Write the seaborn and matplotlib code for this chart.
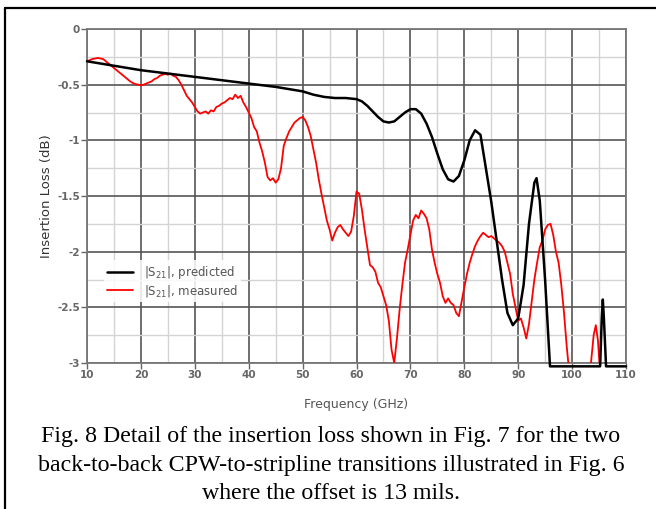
import numpy as np
import pandas as pd
import matplotlib
matplotlib.use("Agg")
import matplotlib.pyplot as plt
from matplotlib.lines import Line2D
from matplotlib.ticker import MultipleLocator
import seaborn as sns

# predicted |S21| (simulation), GHz / dB
freq_pred = [10, 15, 20, 25, 30, 35, 40, 45, 50, 52, 54, 56, 58, 60, 61, 62, 63, 64, 65,
             66, 67, 68, 69, 70, 71, 72, 73, 74, 75, 76, 77, 78, 79, 80, 81, 82, 83,
             84, 85, 86, 87, 88, 89, 90, 91, 92, 93, 93.4, 94, 95, 95.9, 100, 105.2,
             105.5, 105.7, 105.9, 106.3, 110]
loss_pred = [-0.29, -0.33, -0.37, -0.40, -0.43, -0.46, -0.49, -0.52, -0.56, -0.59, -0.61,
             -0.62, -0.62, -0.63, -0.65, -0.69, -0.74, -0.79, -0.83, -0.84, -0.83, -0.79,
             -0.75, -0.72, -0.72, -0.76, -0.85, -0.97, -1.12, -1.26, -1.35, -1.37, -1.32,
             -1.18, -1.0, -0.91, -0.95, -1.25, -1.55, -1.9, -2.25, -2.55, -2.66, -2.6,
             -2.3, -1.75, -1.38, -1.34, -1.54, -2.26, -3.03, -3.03, -3.03, -2.6, -2.43,
             -2.6, -3.03, -3.03]

# measured |S21|
freq_meas = [10.0, 10.5, 11.0, 11.5, 12.0, 12.5, 13.0, 13.5, 14.0, 14.5, 15.0, 15.5, 16.0,
             16.5, 17.0, 17.5, 18.0, 18.5, 19.0, 19.5, 20.0, 20.5, 21.0, 21.5, 22.0, 22.5,
             23.0, 23.5, 24.0, 24.5, 25.0, 25.5, 26.0, 26.5, 27.0, 27.5, 28.0, 28.5, 29.0,
             29.5, 30.0, 30.5, 31.0, 31.5, 32.0, 32.5, 33.0, 33.5, 34.0, 34.5, 35.0, 35.5,
             36.0, 36.5, 37.0, 37.5, 38.0, 38.5, 39.0, 39.5, 40.0, 40.5, 41.0, 41.5, 42.0,
             42.5, 43.0, 43.5, 44.0, 44.5, 45.0, 45.5, 46.0, 46.5, 47.0, 47.5, 48.0, 48.5,
             49.0, 49.5, 50.0, 50.5, 51.0, 51.5, 52.0, 52.5, 53.0, 53.5, 54.0, 54.5, 55.0,
             55.5, 56.0, 56.5, 57.0, 57.5, 58.0, 58.5, 59.0, 59.5, 60.0, 60.5, 61.0, 61.5,
             62.0, 62.5, 63.0, 63.5, 64.0, 64.5, 65.0, 65.5, 66.0, 66.5, 67.0, 67.5, 68.0,
             68.5, 69.0, 69.5, 70.0, 70.5, 71.0, 71.5, 72.0, 72.5, 73.0, 73.5, 74.0, 74.5,
             75.0, 75.5, 76.0, 76.5, 77.0, 77.5, 78.0, 78.5, 79.0, 79.5, 80.0, 80.5, 81.0,
             81.5, 82.0, 82.5, 83.0, 83.5, 84.0, 84.5, 85.0, 85.5, 86.0, 86.5, 87.0, 87.5,
             88.0, 88.5, 89.0, 89.5, 90.0, 90.5, 91.0, 91.5, 92.0, 92.5, 93.0, 93.5, 94.0,
             94.5, 95.0, 95.5, 96.0, 96.5, 97.0, 97.5, 98.0, 98.5, 99.0, 99.5, 100.0,
             103.0, 103.5, 104.0, 104.4, 104.8, 105.2, 105.5, 110.0]
loss_meas = [-0.29, -0.28, -0.27, -0.265, -0.26, -0.265, -0.27, -0.29, -0.31, -0.33, -0.35,
             -0.37, -0.39, -0.41, -0.43, -0.45, -0.47, -0.485, -0.495, -0.50, -0.505, -0.50,
             -0.49, -0.48, -0.47, -0.45, -0.44, -0.42, -0.41, -0.405, -0.41, -0.40, -0.42,
             -0.43, -0.46, -0.50, -0.55, -0.60, -0.63, -0.66, -0.70, -0.74, -0.76, -0.75,
             -0.74, -0.76, -0.73, -0.74, -0.70, -0.69, -0.67, -0.66, -0.64, -0.62, -0.63,
             -0.59, -0.62, -0.60, -0.66, -0.70, -0.75, -0.80, -0.88, -0.92, -1.02, -1.10,
             -1.20, -1.33, -1.36, -1.34, -1.38, -1.35, -1.25, -1.05, -0.98, -0.92, -0.88,
             -0.84, -0.82, -0.80, -0.79, -0.82, -0.88, -0.96, -1.08, -1.20, -1.35, -1.48,
             -1.60, -1.72, -1.80, -1.90, -1.83, -1.78, -1.76, -1.80, -1.83, -1.86, -1.82,
             -1.68, -1.46, -1.48, -1.62, -1.80, -1.96, -2.12, -2.14, -2.18, -2.28, -2.32,
             -2.40, -2.48, -2.62, -2.88, -3.00, -2.78, -2.52, -2.30, -2.10, -1.98, -1.85,
             -1.72, -1.67, -1.70, -1.63, -1.66, -1.70, -1.80, -1.98, -2.10, -2.20, -2.28,
             -2.40, -2.46, -2.42, -2.46, -2.48, -2.55, -2.58, -2.45, -2.32, -2.20, -2.10,
             -2.02, -1.95, -1.90, -1.86, -1.83, -1.85, -1.87, -1.86, -1.88, -1.90, -1.92,
             -1.95, -2.00, -2.10, -2.20, -2.38, -2.50, -2.62, -2.60, -2.68, -2.78, -2.65,
             -2.45, -2.25, -2.10, -1.96, -1.90, -1.80, -1.76, -1.75, -1.85, -2.00, -2.10,
             -2.30, -2.55, -2.85, -3.10, -3.30, -3.30, -3.00, -2.75, -2.66, -2.80, -3.10,
             -3.30, -3.30]

x_ticks = [10, 20, 30, 40, 50, 60, 70, 80, 90, 100, 110]
y_ticks = [0, -0.5, -1, -1.5, -2, -2.5, -3]
y_tick_labels = ['0', '-0.5', '-1', '-1.5', '-2', '-2.5', '-3']

caption = ["Fig. 8 Detail of the insertion loss shown in Fig. 7 for the two",
           "back-to-back CPW-to-stripline transitions illustrated in Fig. 6",
           "where the offset is 13 mils."]

sns.set_style("white")
plt.rcParams['font.family'] = ['DejaVu Sans']

fig = plt.figure(figsize=(6.56, 5.09), dpi=100)
ax = fig.add_axes([87 / 656, 1 - 363 / 509, 539 / 656, 334 / 509])

sns.lineplot(x=freq_pred, y=loss_pred, color='black', linewidth=1.8,
             label='|S$_{21}$|, predicted', ax=ax, sort=False, clip_on=False, zorder=4)
sns.lineplot(x=freq_meas, y=loss_meas, color='red', linewidth=1.3,
             label='|S$_{21}$|, measured', ax=ax, sort=False, zorder=3)

ax.set_xlim(10, 110)
ax.set_ylim(-3, 0)
ax.set_xticks(x_ticks)
ax.set_yticks(y_ticks)
ax.set_yticklabels(y_tick_labels)
ax.xaxis.set_minor_locator(MultipleLocator(5))
ax.yaxis.set_minor_locator(MultipleLocator(0.25))
ax.grid(which='major', color='#555555', linewidth=1.2, zorder=1)
ax.grid(which='minor', color='#d4d4d4', linewidth=1.0, zorder=0)
ax.set_axisbelow(True)
ax.tick_params(which='major', direction='out', length=4, width=1, color='#666666',
               labelsize=7.5, labelcolor='#666666', pad=1,
               bottom=True, left=True)
ax.tick_params(which='minor', length=0)
for lbl in ax.get_xticklabels() + ax.get_yticklabels():
    lbl.set_fontweight('bold')
for s in ax.spines.values():
    s.set_color('#777777')
    s.set_linewidth(1.3)

ax.set_xlabel('Frequency (GHz)', fontsize=9, color='#555555', labelpad=13)
ax.set_ylabel('Insertion Loss (dB)', fontsize=9.5, color='#333333', labelpad=3)

leg = ax.legend(loc='upper left', bbox_to_anchor=(0.02, 0.325), frameon=True,
                fontsize=8.5, handlelength=2.2, handletextpad=0.9, borderpad=0.3,
                labelspacing=0.15)
leg.get_frame().set_edgecolor('none')
leg.get_frame().set_facecolor('white')
leg.get_frame().set_alpha(0.85)
for t in leg.get_texts():
    t.set_color('#555555')

# outer frame (top and left edges visible)
fig.add_artist(Line2D([4.5 / 656, 1], [1 - 7.5 / 509, 1 - 7.5 / 509], color='black', linewidth=1.6))
fig.add_artist(Line2D([4.5 / 656, 4.5 / 656], [0, 1 - 7.5 / 509], color='black', linewidth=1.6))

for i, line in enumerate(caption):
    fig.text(331 / 656, 1 - (442 + 28.5 * i) / 509, line, ha='center', va='baseline',
             fontsize=17.2, family='Liberation Serif', color='black')

fig.savefig('out.png', dpi=100)
